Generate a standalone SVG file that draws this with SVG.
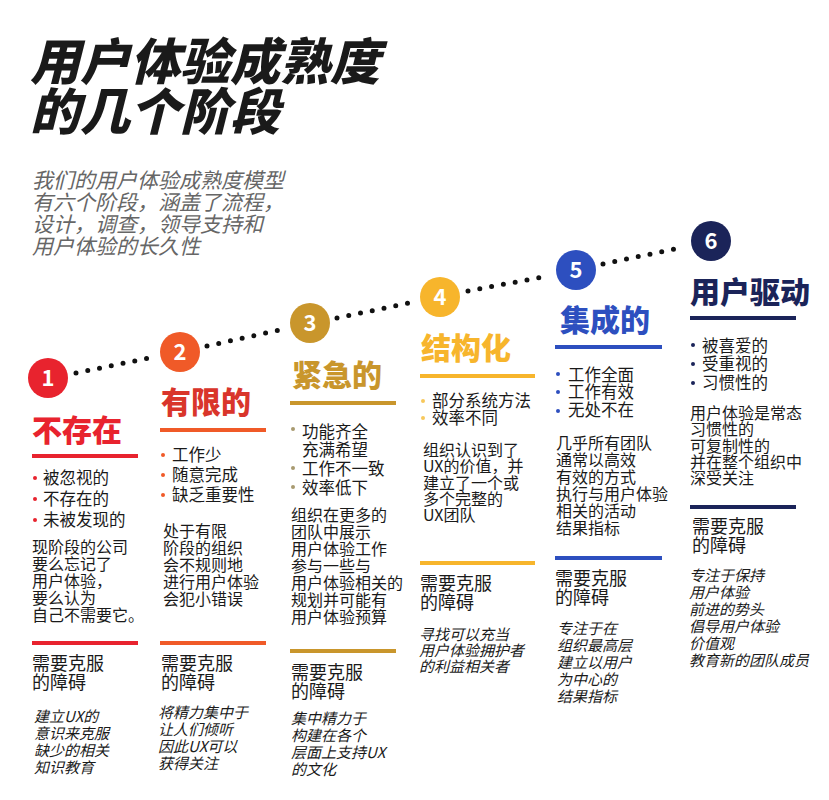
<svg xmlns="http://www.w3.org/2000/svg" width="829" height="800" viewBox="0 0 829 800">
<style>
text{font-family:"Noto Sans CJK SC","Noto Sans",sans-serif;fill:#1a1a1a}
.h1{font-size:50px;font-weight:900;font-style:italic}
.sub{font-size:21px;font-style:italic;fill:#666}
.num{font-size:22px;font-weight:700;fill:#fff;text-anchor:middle}
.t{font-size:30px;font-weight:900}
.b{font-size:16.5px}
.d{font-size:16px}
.o{font-size:18px}
.i{font-size:15px;font-style:italic}
.dot{stroke:#111;stroke-width:5;stroke-linecap:round;stroke-dasharray:0 12;fill:none}
</style>
<rect width="829" height="800" fill="#fff"/>
<text class="h1" x="30" y="80">用户体验成熟度</text>
<text class="h1" x="30" y="130">的几个阶段</text>
<g><text class="sub" x="32" y="188">我们的用户体验成熟度模型</text><text class="sub" x="32" y="210">有六个阶段，涵盖了流程，</text><text class="sub" x="32" y="232">设计，调查，领导支持和</text><text class="sub" x="32" y="254">用户体验的长久性</text></g>
<g id="connectors">
<line class="dot" x1="76" y1="373" x2="154" y2="357"/>
<line class="dot" x1="207" y1="346" x2="284" y2="329"/>
<line class="dot" x1="337" y1="318" x2="414" y2="302"/>
<line class="dot" x1="468" y1="291" x2="548" y2="276"/>
<line class="dot" x1="603" y1="264" x2="684" y2="247"/>
</g>
<g id="n1">
<circle cx="48" cy="378" r="20" fill="#e8232e"/><text class="num" x="48" y="386">1</text>
<text class="t" x="32" y="441" style="fill:#e8232e">不存在</text>
<rect x="32" y="454" width="106" height="4" fill="#e8232e"/>
<g fill="#e8232e"><circle cx="35" cy="478" r="2"/><circle cx="35" cy="499" r="2"/><circle cx="35" cy="520" r="2"/></g>
<text class="b" x="43" y="484">被忽视的</text><text class="b" x="43" y="505">不存在的</text><text class="b" x="43" y="526">未被发现的</text>
<text class="d" x="32" y="553">现阶段的公司</text><text class="d" x="32" y="570">要么忘记了</text><text class="d" x="32" y="587">用户体验，</text><text class="d" x="32" y="604">要么认为</text><text class="d" x="32" y="621">自己不需要它。</text>
<rect x="32" y="641" width="106" height="4" fill="#e8232e"/>
<text class="o" x="32" y="670">需要克服</text><text class="o" x="32" y="689">的障碍</text>
<text class="i" x="34" y="722">建立UX的</text><text class="i" x="34" y="739">意识来克服</text><text class="i" x="34" y="756">缺少的相关</text><text class="i" x="34" y="773">知识教育</text>
</g>
<g id="n2">
<circle cx="180" cy="352" r="20" fill="#f05a28"/><text class="num" x="180" y="360">2</text>
<text class="t" x="161" y="413" style="fill:#d9352b">有限的</text>
<rect x="160" y="428" width="106" height="4" fill="#f05a28"/>
<g fill="#f05a28"><circle cx="163" cy="455" r="2"/><circle cx="163" cy="475" r="2"/><circle cx="163" cy="495" r="2"/></g>
<text class="b" x="172" y="461">工作少</text><text class="b" x="172" y="481">随意完成</text><text class="b" x="172" y="501">缺乏重要性</text>
<text class="d" x="163" y="537">处于有限</text><text class="d" x="163" y="554">阶段的组织</text><text class="d" x="163" y="571">会不规则地</text><text class="d" x="163" y="588">进行用户体验</text><text class="d" x="163" y="605">会犯小错误</text>
<rect x="160" y="641" width="106" height="4" fill="#f05a28"/>
<text class="o" x="161" y="670">需要克服</text><text class="o" x="161" y="689">的障碍</text>
<text class="i" x="158" y="718">将精力集中于</text><text class="i" x="158" y="735">让人们倾听</text><text class="i" x="158" y="752">因此UX可以</text><text class="i" x="158" y="769">获得关注</text>
</g>
<g id="n3">
<circle cx="310" cy="323" r="20" fill="#c9962c"/><text class="num" x="310" y="331">3</text>
<text class="t" x="292" y="386" style="fill:#c9962c">紧急的</text>
<rect x="290" y="401" width="106" height="4" fill="#c9962c"/>
<g fill="#a89a70"><circle cx="293" cy="429" r="2"/><circle cx="293" cy="468" r="2"/><circle cx="293" cy="487" r="2"/></g>
<text class="b" x="302" y="438">功能齐全</text><text class="b" x="302" y="456">充满希望</text><text class="b" x="302" y="475">工作不一致</text><text class="b" x="302" y="494">效率低下</text>
<text class="d" x="291" y="521">组织在更多的</text><text class="d" x="291" y="538">团队中展示</text><text class="d" x="291" y="555">用户体验工作</text><text class="d" x="291" y="572">参与一些与</text><text class="d" x="291" y="589">用户体验相关的</text><text class="d" x="291" y="606">规划并可能有</text><text class="d" x="291" y="623">用户体验预算</text>
<rect x="290" y="649" width="106" height="4" fill="#c9962c"/>
<text class="o" x="291" y="679">需要克服</text><text class="o" x="291" y="698">的障碍</text>
<text class="i" x="291" y="724">集中精力于</text><text class="i" x="291" y="741">构建在各个</text><text class="i" x="291" y="758">层面上支持UX</text><text class="i" x="291" y="775">的文化</text>
</g>
<g id="n4">
<circle cx="440" cy="297" r="20" fill="#f7b52c"/><text class="num" x="440" y="305">4</text>
<text class="t" x="421" y="359" style="fill:#f7b52c">结构化</text>
<rect x="420" y="374" width="115" height="4" fill="#f7b52c"/>
<g fill="#f7c85c"><circle cx="423" cy="401" r="2"/><circle cx="423" cy="418" r="2"/></g>
<text class="b" x="432" y="407">部分系统方法</text><text class="b" x="432" y="424">效率不同</text>
<text class="d" x="423" y="456">组织认识到了</text><text class="d" x="423" y="472">UX的价值，并</text><text class="d" x="423" y="489">建立了一个或</text><text class="d" x="423" y="505">多个完整的</text><text class="d" x="423" y="521">UX团队</text>
<rect x="420" y="561" width="115" height="4" fill="#f7b52c"/>
<text class="o" x="420" y="590">需要克服</text><text class="o" x="420" y="609">的障碍</text>
<text class="i" x="419" y="640">寻找可以充当</text><text class="i" x="419" y="656">用户体验拥护者</text><text class="i" x="419" y="672">的利益相关者</text>
</g>
<g id="n5">
<circle cx="576" cy="270" r="20" fill="#2d4fbf"/><text class="num" x="576" y="278">5</text>
<text class="t" x="560" y="331" style="fill:#2d4fbf">集成的</text>
<rect x="555" y="345" width="107" height="4" fill="#2d4fbf"/>
<g fill="#2d4fbf"><circle cx="558" cy="374" r="2"/><circle cx="558" cy="392" r="2"/><circle cx="558" cy="411" r="2"/></g>
<text class="b" x="568" y="381">工作全面</text><text class="b" x="568" y="398">工作有效</text><text class="b" x="568" y="416">无处不在</text>
<text class="d" x="556" y="449">几乎所有团队</text><text class="d" x="556" y="466">通常以高效</text><text class="d" x="556" y="483">有效的方式</text><text class="d" x="556" y="500">执行与用户体验</text><text class="d" x="556" y="517">相关的活动</text><text class="d" x="556" y="534">结果指标</text>
<rect x="555" y="556" width="107" height="4" fill="#2d4fbf"/>
<text class="o" x="555" y="585">需要克服</text><text class="o" x="555" y="604">的障碍</text>
<text class="i" x="557" y="634">专注于在</text><text class="i" x="557" y="651">组织最高层</text><text class="i" x="557" y="668">建立以用户</text><text class="i" x="557" y="685">为中心的</text><text class="i" x="557" y="702">结果指标</text>
</g>
<g id="n6">
<circle cx="711" cy="241" r="20" fill="#1b2459"/><text class="num" x="711" y="249">6</text>
<text class="t" x="690" y="303" style="fill:#1b2459">用户驱动</text>
<rect x="690" y="316" width="106" height="4" fill="#1b2459"/>
<g fill="#1b2459"><circle cx="693" cy="345" r="2"/><circle cx="693" cy="364" r="2"/><circle cx="693" cy="383" r="2"/></g>
<text class="b" x="702" y="352">被喜爱的</text><text class="b" x="702" y="370">受重视的</text><text class="b" x="702" y="389">习惯性的</text>
<text class="d" x="690" y="419">用户体验是常态</text><text class="d" x="690" y="435">习惯性的</text><text class="d" x="690" y="452">可复制性的</text><text class="d" x="690" y="468">并在整个组织中</text><text class="d" x="690" y="484">深受关注</text>
<rect x="690" y="505" width="106" height="4" fill="#1b2459"/>
<text class="o" x="692" y="533">需要克服</text><text class="o" x="692" y="552">的障碍</text>
<text class="i" x="689" y="581">专注于保持</text><text class="i" x="689" y="598">用户体验</text><text class="i" x="689" y="615">前进的势头</text><text class="i" x="689" y="632">倡导用户体验</text><text class="i" x="689" y="649">价值观</text><text class="i" x="689" y="666">教育新的团队成员</text>
</g>
</svg>
